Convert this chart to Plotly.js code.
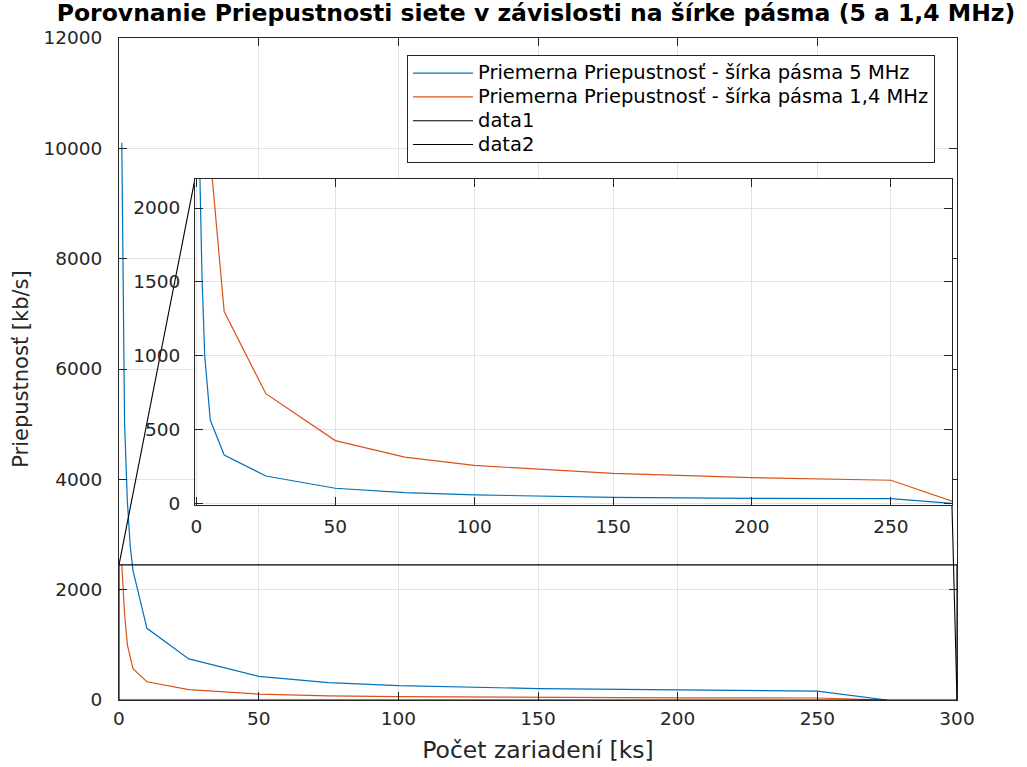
<!DOCTYPE html>
<html>
<head>
<meta charset="utf-8">
<script src="https://cdn.plot.ly/plotly-3.0.1.min.js"></script>
<style>html,body{margin:0;padding:0;background:#fff;}#chart{width:1027px;height:767px;}</style>
</head>
<body>
<div id="chart"></div>
<script>
// Data (x = number of devices, y = average throughput in kb/s)
var devices = [1, 2, 3, 4, 5, 10, 25, 50, 75, 100, 150, 200, 250, 275];
var throughput5MHz = [10100, 5000, 3600, 2800, 2350, 1300, 745, 428, 316, 260, 207, 178, 160, 0];
var throughput14MHz = [2450, 1550, 1000, 760, 567, 331, 189, 106, 76, 61, 45, 38, 36, 0];
// connector lines (legend entries data1 / data2), in main-axis data units
var data1X = [0, 27.2];
var data1Y = [2450, 9446];
var data2X = [300, 298.2];
var data2Y = [0, 3535];
// zoom box in main axes
var zoomBoxX = [0, 300];
var zoomBoxY = [0, 2450];
var mainXTicks = [0, 50, 100, 150, 200, 250, 300];
var mainYTicks = [0, 2000, 4000, 6000, 8000, 10000, 12000];
var insetXTicks = [0, 50, 100, 150, 200, 250];
var insetYTicks = [0, 500, 1000, 1500, 2000];
var seriesNames = ['Priemerna Priepustnosť - šírka pásma 5 MHz', 'Priemerna Priepustnosť - šírka pásma 1,4 MHz', 'data1', 'data2'];

var BLUE = '#0072BD', ORANGE = '#D95319', AX = '#262626', GRID = '#e2e2e2';
var FONT = 'DejaVu Sans, sans-serif';
function legName(s) { return '<span style="font-size:19.5px">' + s + '</span>'; }

var traces = [
  {x: devices, y: throughput5MHz, type: 'scatter', mode: 'lines', name: legName(seriesNames[0]),
   line: {color: BLUE, width: 1.2}, xaxis: 'x', yaxis: 'y'},
  {x: devices, y: throughput14MHz, type: 'scatter', mode: 'lines', name: legName(seriesNames[1]),
   line: {color: ORANGE, width: 1.2}, xaxis: 'x', yaxis: 'y'},
  {x: data1X, y: data1Y, type: 'scatter', mode: 'lines', name: legName(seriesNames[2]), line: {color: '#000', width: 1.1}, xaxis: 'x', yaxis: 'y'},
  {x: data2X, y: data2Y, type: 'scatter', mode: 'lines', name: legName(seriesNames[3]), line: {color: '#000', width: 1.1}, xaxis: 'x', yaxis: 'y'},
  // inset (colour order restarts in the inset)
  {x: devices, y: throughput14MHz, type: 'scatter', mode: 'lines', showlegend: false,
   line: {color: BLUE, width: 1.2}, xaxis: 'x2', yaxis: 'y2'},
  {x: devices, y: throughput5MHz, type: 'scatter', mode: 'lines', showlegend: false,
   line: {color: ORANGE, width: 1.2}, xaxis: 'x2', yaxis: 'y2'}
];

function axisBase(ticks, standoff) {
  return {
    tickmode: 'array', tickvals: ticks, ticktext: ticks.map(String),
    showgrid: true, gridcolor: GRID, gridwidth: 1,
    ticks: 'inside', ticklen: 8, tickwidth: 1, tickcolor: AX,
    showline: true, linecolor: AX, linewidth: 1, mirror: 'allticks',
    zeroline: false, tickfont: {family: FONT, size: 18.5, color: AX},
    ticklabelstandoff: standoff,
    automargin: false
  };
}

var xaxis = Object.assign(axisBase(mainXTicks, 2), {
  range: [0, 300], domain: [0, 1], anchor: 'y',
  title: {text: 'Počet zariadení [ks]', font: {family: FONT, size: 23.5, color: AX}, standoff: 13}
});
var yaxis = Object.assign(axisBase(mainYTicks, 12), {
  range: [0, 12000], domain: [0, 1], anchor: 'x',
  title: {text: 'Priepustnosť [kb/s]', font: {family: FONT, size: 21, color: AX}, standoff: 9}
});
var xaxis2 = Object.assign(axisBase(insetXTicks, 5), {
  range: [-0.5, 272], domain: [0.0907, 0.994], anchor: 'y2'
});
var yaxis2 = Object.assign(axisBase(insetYTicks, 10), {
  range: [-7, 2196], domain: [0.2946, 0.787], anchor: 'x2'
});

var layout = {
  width: 1027, height: 767,
  margin: {l: 119, r: 70, t: 38, b: 67},
  paper_bgcolor: '#fff', plot_bgcolor: '#fff',
  title: {text: '<b>Porovnanie Priepustnosti siete v závislosti na šírke pásma (5 a 1,4 MHz)</b>',
          font: {family: 'DejaVu Sans', size: 23.5, color: '#000'},
          x: 0.4976, xanchor: 'center', xref: 'paper', y: 0.994, yanchor: 'top', yref: 'container'},
  xaxis: xaxis, yaxis: yaxis, xaxis2: xaxis2, yaxis2: yaxis2,
  showlegend: true,
  legend: {x: 0.3437, y: 0.974, xanchor: 'left', yanchor: 'top', bgcolor: '#fff',
           bordercolor: AX, borderwidth: 1, itemwidth: 60, tracegroupgap: 0,
           font: {family: FONT, size: 16, color: '#000'}},
  shapes: [{type: 'rect', xref: 'x', yref: 'y', x0: zoomBoxX[0], x1: zoomBoxX[1], y0: zoomBoxY[0], y1: zoomBoxY[1],
            line: {color: '#000', width: 1.1}, fillcolor: 'rgba(0,0,0,0)', layer: 'above'}]
};

Plotly.newPlot('chart', traces, layout, {staticPlot: true, displayModeBar: false});
</script>
</body>
</html>
